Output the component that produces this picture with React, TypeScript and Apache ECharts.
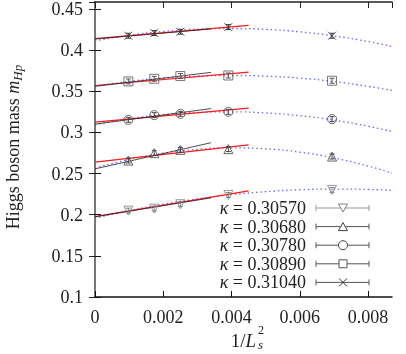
import React, { useEffect, useRef } from "react";
import * as echarts from "echarts";

// 1/L_s^2 for L = 32, 24, 20, 16, 12
const xPoints = [0.000977, 0.001736, 0.0025, 0.003906, 0.006944];
const kappas = ["0.30570", "0.30680", "0.30780", "0.30890", "0.31040"];

// measured masses (rows follow kappas)
const mKappa30570 = [0.205, 0.2074, 0.2128, 0.2241, 0.2302];
const mKappa30680 = [0.2658, 0.2748, 0.2788, 0.2797, 0.2707];
const mKappa30780 = [0.3153, 0.321, 0.3226, 0.325, 0.3162];
const mKappa30890 = [0.362, 0.3652, 0.3685, 0.3692, 0.3628];
const mKappa31040 = [0.4175, 0.4208, 0.4224, 0.428, 0.4175];

// error bars
const eKappa30570 = [0.003, 0.003, 0.003, 0.003, 0.003];
const eKappa30680 = [0.003, 0.003, 0.003, 0.003, 0.003];
const eKappa30780 = [0.003, 0.003, 0.003, 0.003, 0.003];
const eKappa30890 = [0.003, 0.003, 0.003, 0.003, 0.003];
const eKappa31040 = [0.003, 0.003, 0.003, 0.003, 0.003];

// blue dotted fit curves, sampled at xFit
const xFit = [0, 0.001, 0.002, 0.003, 0.004, 0.005, 0.006, 0.007, 0.008, 0.0087];
const fitB30570 = [0.1957, 0.2049, 0.2128, 0.2192, 0.2243, 0.228, 0.2303, 0.2312, 0.2307, 0.2295];
const fitB30680 = [0.2566, 0.2671, 0.2747, 0.2794, 0.2812, 0.2801, 0.276, 0.269, 0.2591, 0.2505];
const fitB30780 = [0.3096, 0.3167, 0.3216, 0.3244, 0.325, 0.3237, 0.3203, 0.315, 0.3075, 0.301];
const fitB30890 = [0.3563, 0.362, 0.366, 0.3685, 0.3692, 0.3684, 0.3659, 0.3618, 0.356, 0.351];
const fitB31040 = [0.4114, 0.418, 0.4227, 0.4255, 0.4263, 0.4252, 0.4222, 0.4173, 0.4105, 0.4045];

// red linear fits (x = 0 .. 0.0045)
const xRed = [0, 0.0045];
const fitR30570 = [0.1977, 0.229];
const fitR30680 = [0.2638, 0.2849];
const fitR30780 = [0.3125, 0.3295];
const fitR30890 = [0.357, 0.3733];
const fitR31040 = [0.414, 0.43];

// black linear fits (x = 0 .. 0.0034)
const xBlack = [0, 0.0034];
const fitK30570 = [0.1975, 0.2205];
const fitK30680 = [0.2557, 0.2875];
const fitK30780 = [0.31, 0.329];
const fitK30890 = [0.356, 0.373];
const fitK31040 = [0.4135, 0.4258];

const xTicks = { min: 0, max: 0.0087, interval: 0.002 };
const yTicks = { min: 0.1, max: 0.4585, interval: 0.05 };

const masses = [mKappa30570, mKappa30680, mKappa30780, mKappa30890, mKappa31040];
const errors = [eKappa30570, eKappa30680, eKappa30780, eKappa30890, eKappa31040];
const blueFits = [fitB30570, fitB30680, fitB30780, fitB30890, fitB31040];
const redFits = [fitR30570, fitR30680, fitR30780, fitR30890, fitR31040];
const blackFits = [fitK30570, fitK30680, fitK30780, fitK30890, fitK31040];

const CROSS = "path://M0,0L10,10M10,0L0,10";
const symbols = ["triangle", "triangle", "circle", "rect", CROSS];
const rotates = [180, 0, 0, 0, 0];
const markColors = ["#808080", "#444", "#444", "#555", "#333"];

const SERIF = "Liberation Serif";

export default function App() {
  const ref = useRef<HTMLDivElement>(null);
  useEffect(() => {
    if (!ref.current) return;
    const chart = echarts.init(ref.current, undefined, { renderer: "svg" });

    const series: any[] = [];
    kappas.forEach((k, i) => {
      series.push({
        type: "line",
        name: "blue" + k,
        data: xFit.map((x, j) => [x, blueFits[i][j]]),
        smooth: true,
        showSymbol: false,
        lineStyle: { color: "#6a6aff", width: 1.3, type: [1.5, 2.8] },
        z: 2,
      });
      series.push({
        type: "line",
        name: "red" + k,
        data: xRed.map((x, j) => [x, redFits[i][j]]),
        showSymbol: false,
        lineStyle: { color: "#ff1a1a", width: 1.2 },
        z: 3,
      });
      series.push({
        type: "line",
        name: "black" + k,
        data: xBlack.map((x, j) => [x, blackFits[i][j]]),
        showSymbol: false,
        lineStyle: { color: "#222", width: 0.8 },
        z: 4,
      });
      const col = markColors[i];
      series.push({
        type: "custom",
        name: "err" + k,
        data: xPoints.map((x, j) => [x, masses[i][j], errors[i][j]]),
        renderItem: (_p: any, api: any) => {
          const x = api.value(0);
          const y = api.value(1);
          const e = api.value(2);
          const t = api.coord([x, y + e]);
          const b = api.coord([x, y - e]);
          const hw = 2.5;
          const st = { stroke: col, lineWidth: 1 };
          return {
            type: "group",
            children: [
              { type: "line", shape: { x1: t[0], y1: t[1], x2: b[0], y2: b[1] }, style: st },
              { type: "line", shape: { x1: t[0] - hw, y1: t[1], x2: t[0] + hw, y2: t[1] }, style: st },
              { type: "line", shape: { x1: b[0] - hw, y1: b[1], x2: b[0] + hw, y2: b[1] }, style: st },
            ],
          };
        },
        z: 5,
      });
      series.push({
        type: "scatter",
        name: "pts" + k,
        data: xPoints.map((x, j) => [x, masses[i][j]]),
        symbol: symbols[i],
        symbolRotate: rotates[i],
        symbolSize: i === 4 ? 8 : 9,
        itemStyle: { color: "rgba(0,0,0,0)", borderColor: col, borderWidth: 1 },
        z: 6,
      });
    });

    // legend drawn with graphics
    const graphic: any[] = [];
    const lx0 = 316;
    const lx1 = 369;
    const lmx = 343;
    kappas.forEach((k, i) => {
      const y = 208 + i * 18.6;
      const col = i === 0 ? "#999" : "#555";
      const mcol = markColors[i];
      graphic.push({
        type: "text",
        x: 306,
        y,
        style: {
          text: "{k|κ} = " + k,
          rich: { k: { fontStyle: "italic", fontFamily: SERIF, fontSize: 18 } },
          fontFamily: SERIF,
          fontSize: 18,
          fill: "#222",
          align: "right",
          verticalAlign: "middle",
        },
      });
      const ls = { stroke: col, lineWidth: 1 };
      graphic.push({ type: "line", shape: { x1: lx0, y1: y, x2: lx1, y2: y }, style: ls });
      graphic.push({ type: "line", shape: { x1: lx0, y1: y - 3, x2: lx0, y2: y + 3 }, style: ls });
      graphic.push({ type: "line", shape: { x1: lx1, y1: y - 3, x2: lx1, y2: y + 3 }, style: ls });
      const ms = { stroke: mcol, lineWidth: 1, fill: "#fff" };
      if (i === 0) {
        graphic.push({ type: "polygon", shape: { points: [[lmx - 4.5, y - 4], [lmx + 4.5, y - 4], [lmx, y + 4]] }, style: ms });
      } else if (i === 1) {
        graphic.push({ type: "polygon", shape: { points: [[lmx - 4.5, y + 4], [lmx + 4.5, y + 4], [lmx, y - 4]] }, style: ms });
      } else if (i === 2) {
        graphic.push({ type: "circle", shape: { cx: lmx, cy: y, r: 4.5 }, style: ms });
      } else if (i === 3) {
        graphic.push({ type: "rect", shape: { x: lmx - 4, y: y - 4, width: 8, height: 8 }, style: ms });
      } else {
        graphic.push({ type: "line", shape: { x1: lmx - 4, y1: y - 4, x2: lmx + 4, y2: y + 4 }, style: ms });
        graphic.push({ type: "line", shape: { x1: lmx - 4, y1: y + 4, x2: lmx + 4, y2: y - 4 }, style: ms });
      }
    });
    // x axis title 1/L_s^2
    graphic.push({
      type: "text",
      x: 256,
      y: 340,
      style: {
        text: "1/{L|L}",
        rich: { L: { fontStyle: "italic", fontFamily: SERIF, fontSize: 19 } },
        fontFamily: SERIF,
        fontSize: 19,
        fill: "#222",
        align: "right",
        verticalAlign: "middle",
      },
    });
    graphic.push({
      type: "text",
      x: 258,
      y: 330,
      style: { text: "2", fontFamily: SERIF, fontSize: 12, lineHeight: 10, fill: "#222", align: "left", verticalAlign: "middle" },
    });
    graphic.push({
      type: "text",
      x: 258,
      y: 344,
      style: { text: "s", fontFamily: SERIF, fontStyle: "italic", fontSize: 13, lineHeight: 10, fill: "#222", align: "left", verticalAlign: "middle" },
    });
    // y axis title
    graphic.push({
      type: "text",
      x: 13,
      y: 147,
      rotation: Math.PI / 2,
      style: {
        text: "{a|Higgs boson mass }{m|m}{s|Hp}",
        rich: {
          a: { fontFamily: SERIF, fontSize: 18, lineHeight: 22, fill: "#222" },
          m: { fontFamily: SERIF, fontSize: 18, fontStyle: "italic", lineHeight: 22, fill: "#222" },
          s: { fontFamily: SERIF, fontSize: 13, fontStyle: "italic", lineHeight: 13, verticalAlign: "bottom", fill: "#222" },
        },
        align: "center",
        verticalAlign: "middle",
      },
    });

    const axisLabel = { fontFamily: SERIF, fontSize: 18, color: "#222" };
    chart.setOption({
      animation: false,
      grid: { left: 95, right: 14, top: 2, bottom: 57 },
      xAxis: [
        {
          type: "value",
          position: "bottom",
          ...xTicks,
          axisLine: { lineStyle: { color: "#111", width: 1.5 } },
          axisTick: { inside: true, length: 6, lineStyle: { color: "#111" } },
          axisLabel: { ...axisLabel, margin: 11, showMaxLabel: false },
          splitLine: { show: false },
        },
        {
          type: "value",
          position: "top",
          ...xTicks,
          axisLine: { lineStyle: { color: "#222", width: 1.5 } },
          axisTick: { inside: true, length: 6, lineStyle: { color: "#222" } },
          axisLabel: { show: false },
          splitLine: { show: false },
        },
      ],
      yAxis: [
        {
          type: "value",
          position: "left",
          ...yTicks,
          axisLine: { show: true, lineStyle: { color: "#111", width: 1.5 } },
          axisTick: { show: true, inside: true, length: 6, lineStyle: { color: "#111" } },
          axisLabel: { ...axisLabel, margin: 12, showMaxLabel: false },
          splitLine: { show: false },
        },
        {
          type: "value",
          position: "right",
          ...yTicks,
          axisLine: { show: true, lineStyle: { color: "#777", width: 2 } },
          axisTick: { show: true, inside: true, length: 6, lineStyle: { color: "#222" } },
          axisLabel: { show: false },
          splitLine: { show: false },
        },
      ],
      graphic,
      series,
    });
    return () => chart.dispose();
  }, []);
  return <div ref={ref} style={{ width: 406, height: 354, position: "fixed", left: 0, top: 0 }} />;
}
